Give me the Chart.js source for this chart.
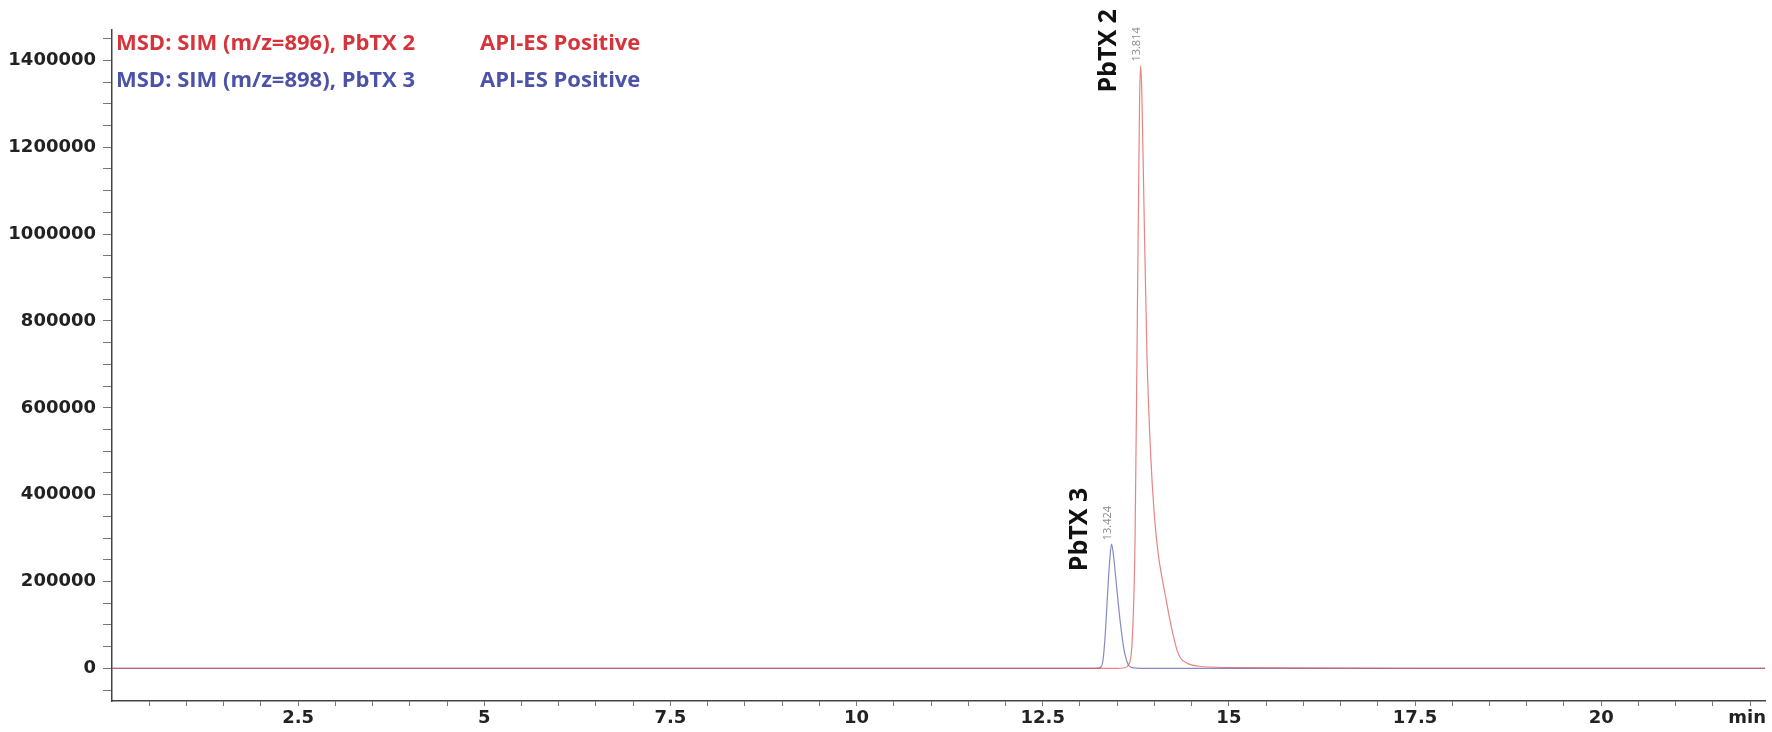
<!DOCTYPE html>
<html>
<head>
<meta charset="utf-8">
<script src="https://cdn.jsdelivr.net/npm/chart.js@4/dist/chart.umd.min.js"></script>
<style>
  html, body { margin: 0; padding: 0; background: #fff; }
  #wrap { width: 1772px; height: 732px; position: relative; }
</style>
</head>
<body>
<div id="wrap"><canvas id="chromChart"></canvas></div>
<script>
// retention time (min) and abundance
var redTime   = [0, 5, 10, 12.5, 13.5, 13.6, 13.65, 13.7, 13.74, 13.77, 13.8, 13.814, 13.83, 13.86, 13.9, 13.95, 14.0, 14.05, 14.1, 14.15, 14.2, 14.25, 14.3, 14.35, 14.45, 14.6, 15.0, 17.5, 20, 22.2];
var redSignal = [0, 0, 0, 0, 0, 1500, 8000, 60000, 300000, 800000, 1300000, 1388000, 1330000, 1060000, 720000, 490000, 350000, 265000, 210000, 165000, 118000, 78000, 44000, 24000, 11000, 5000, 2000, 0, 0, 0];

var blueTime   = [0, 5, 10, 12.5, 13.2, 13.28, 13.31, 13.34, 13.37, 13.4, 13.424, 13.45, 13.48, 13.52, 13.56, 13.6, 13.65, 13.7, 14.0, 17.5, 22.2];
var blueSignal = [0, 0, 0, 0, 0, 3000, 20000, 80000, 170000, 250000, 286000, 260000, 210000, 140000, 80000, 35000, 8000, 2000, 0, 0, 0];

var yTickLabels = [0, 200000, 400000, 600000, 800000, 1000000, 1200000, 1400000];
var xTickLabels = [2.5, 5, 7.5, 10, 12.5, 15, 17.5, 20];

var peakNames = ['PbTX 2', 'PbTX 3'];
var peakTimes = [13.814, 13.424];
var peakTops  = [1388000, 286000];

var legendLines = ['MSD: SIM (m/z=896), PbTX 2', 'MSD: SIM (m/z=898), PbTX 3'];
var legendTail = 'API-ES Positive';

var RED = '#d6343b';
var BLUE = '#4b52a8';
var TICK_FONT = '"DejaVu Sans"';

function toPoints(xs, ys) {
    return xs.map(function (x, i) { return { x: x, y: ys[i] }; });
}

// peak labels, legend text and the "min" unit
var overlayText = {
    id: 'overlayText',
    afterDraw: function (chart) {
        var ctx = chart.ctx;
        var xs = chart.scales.x, ys = chart.scales.y;
        ctx.save();

        // legend lines
        ctx.textBaseline = 'middle';
        ctx.textAlign = 'left';
        ctx.font = 'bold 22px "Open Sans"';
        var colors = [RED, BLUE];
        var rows = [44, 81];
        for (var i = 0; i < legendLines.length; i++) {
            ctx.fillStyle = colors[i];
            ctx.fillText(legendLines[i], 116, rows[i]);
            ctx.fillText(legendTail, 480, rows[i]);
        }

        // peak annotations, rotated
        for (var j = 0; j < peakNames.length; j++) {
            var px = xs.getPixelForValue(peakTimes[j]);
            var py = ys.getPixelForValue(peakTops[j]);

            ctx.save();
            ctx.translate(px - 4, py - 4);
            ctx.rotate(-Math.PI / 2);
            ctx.font = '11px "Open Sans"';
            ctx.fillStyle = '#8a8a8a';
            ctx.textAlign = 'left';
            ctx.fillText(peakTimes[j].toFixed(3), 0, 0);
            ctx.restore();

            ctx.save();
            ctx.translate(px - 32, py + 27);
            ctx.rotate(-Math.PI / 2);
            ctx.font = 'bold 25px "Open Sans"';
            ctx.fillStyle = '#111';
            ctx.textAlign = 'left';
            ctx.fillText(peakNames[j], 0, 0);
            ctx.restore();
        }

        // axis unit
        ctx.font = 'bold 18px ' + TICK_FONT;
        ctx.fillStyle = '#222';
        ctx.textAlign = 'right';
        ctx.fillText('min', 1766, 718);
        ctx.restore();
    }
};

document.addEventListener('DOMContentLoaded', function () {
    var ctx = document.getElementById('chromChart').getContext('2d');

    var chart = new Chart(ctx, {
        type: 'line',
        data: {
            datasets: [{
                label: 'PbTX 2',
                data: toPoints(redTime, redSignal),
                borderColor: 'rgba(222, 80, 80, 0.7)',
                borderWidth: 1.2,
                pointRadius: 0,
                fill: false,
                cubicInterpolationMode: 'monotone'
            }, {
                label: 'PbTX 3',
                data: toPoints(blueTime, blueSignal),
                borderColor: 'rgba(80, 90, 170, 0.7)',
                borderWidth: 1.2,
                pointRadius: 0,
                fill: false,
                cubicInterpolationMode: 'monotone'
            }]
        },
        options: {
            responsive: true,
            maintainAspectRatio: false,
            animation: false,
            layout: { padding: { top: 30, right: 7, left: 0, bottom: 0 } },
            plugins: {
                legend: { display: false },
                tooltip: { enabled: false }
            },
            scales: {
                x: {
                    type: 'linear',
                    min: 0,
                    max: 22.2,
                    afterBuildTicks: function (scale) {
                        var t = [];
                        for (var v = 0.5; v <= 22; v += 0.5) t.push({ value: v });
                        scale.ticks = t;
                    },
                    afterFit: function (scale) { scale.height = 31; },
                    grid: {
                        display: true,
                        drawOnChartArea: false,
                        drawTicks: true,
                        tickLength: 5,
                        color: '#777'
                    },
                    border: { display: true, color: '#444', width: 1.5 },
                    ticks: {
                        autoSkip: false,
                        maxRotation: 0,
                        padding: 2,
                        color: '#222',
                        font: { family: 'DejaVu Sans', weight: 'bold', size: 18 },
                        callback: function (value) {
                            return xTickLabels.indexOf(value) >= 0 ? String(value) : '';
                        }
                    }
                },
                y: {
                    type: 'linear',
                    min: -75000,
                    max: 1470000,
                    afterBuildTicks: function (scale) {
                        var t = [];
                        for (var v = -50000; v <= 1450000; v += 50000) t.push({ value: v });
                        scale.ticks = t;
                    },
                    afterFit: function (scale) { scale.width = 112; },
                    grid: {
                        display: true,
                        drawOnChartArea: false,
                        drawTicks: true,
                        tickLength: 9,
                        color: '#777'
                    },
                    border: { display: true, color: '#444', width: 1.5 },
                    ticks: {
                        autoSkip: false,
                        padding: 7,
                        color: '#222',
                        font: { family: 'DejaVu Sans', weight: 'bold', size: 18 },
                        callback: function (value) {
                            return yTickLabels.indexOf(value) >= 0 ? String(value) : '';
                        }
                    }
                }
            }
        },
        plugins: [overlayText]
    });
});
</script>
</body>
</html>
